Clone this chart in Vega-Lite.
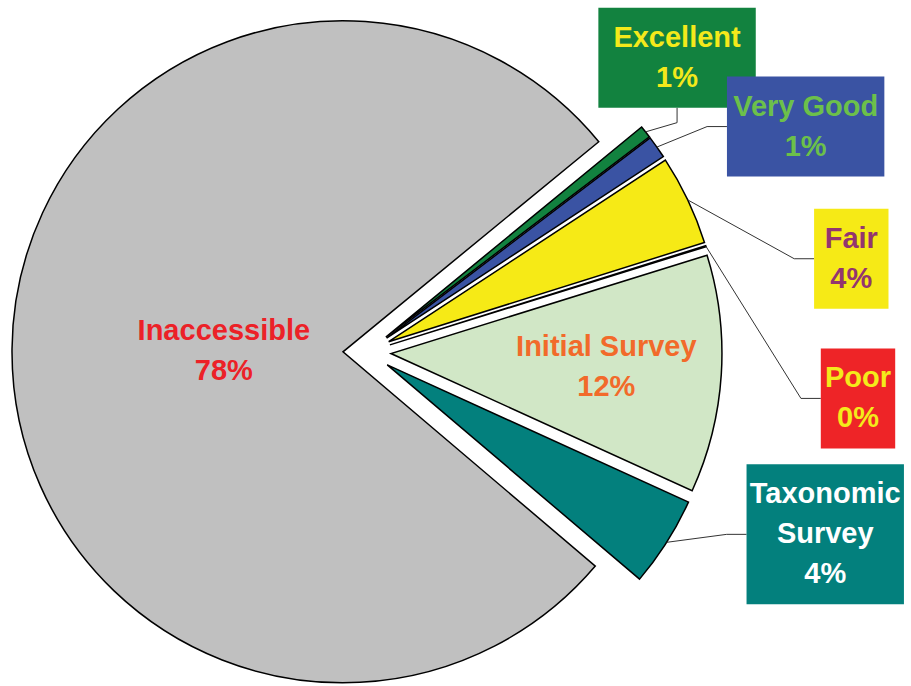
{
  "$schema": "https://vega.github.io/schema/vega-lite/v6.json",
  "width": 911,
  "height": 686,
  "autosize": {"type": "none"},
  "padding": 0,
  "background": "white",
  "config": {"view": {"stroke": null}},
  "data": {
    "values": [
      {"category": "Excellent", "share": 0.6},
      {"category": "Very Good", "share": 1.1},
      {"category": "Fair", "share": 4.4},
      {"category": "Poor", "share": 0.05},
      {"category": "Initial Survey", "share": 11.6},
      {"category": "Taxonomic Survey", "share": 4.4},
      {"category": "Inaccessible", "share": 77.85}
    ]
  },
  "transform": [
    {"window": [{"op": "sum", "field": "share", "as": "cum"}], "frame": [null, 0]},
    {"joinaggregate": [{"op": "sum", "field": "share", "as": "total"}]},
    {"calculate": "PI*50.6/180 + 2*PI*(datum.cum - datum.share)/datum.total", "as": "a0"},
    {"calculate": "PI*50.6/180 + 2*PI*datum.cum/datum.total", "as": "a1"},
    {"calculate": "(datum.a0 + datum.a1)/2", "as": "mid"},
    {"calculate": "0.0725*sin(datum.mid)", "as": "cx"},
    {"calculate": "0.0725*cos(datum.mid)", "as": "cy"},
    {"calculate": "format(datum.share, '.0f') + '%'", "as": "pct"},
    {"calculate": "datum.cx + sin(datum.mid)", "as": "ax"},
    {"calculate": "datum.cy + cos(datum.mid)", "as": "ay"}
  ],
  "layer": [
    {
      "mark": {"type": "arc", "radius": 331, "stroke": "#000000", "strokeWidth": 1.5, "strokeJoin": "miter"},
      "encoding": {
        "x": {"field": "cx", "type": "quantitative", "scale": {"domain": [-1.10876, 1.6435], "nice": false, "zero": false}, "axis": null},
        "y": {"field": "cy", "type": "quantitative", "scale": {"domain": [-1.00906, 1.06344], "nice": false, "zero": false}, "axis": null},
        "theta": {"field": "a0", "type": "quantitative", "scale": null, "stack": null},
        "theta2": {"field": "a1"},
        "fill": {
          "field": "category", "type": "nominal", "legend": null,
          "scale": {
            "domain": ["Excellent", "Very Good", "Fair", "Poor", "Initial Survey", "Taxonomic Survey", "Inaccessible"],
            "range": ["#12823f", "#3a53a3", "#f6ea16", "#ee2427", "#d1e7c6", "#03807d", "#c0c0c0"]
          }
        }
      }
    },
    {
      "transform": [
        {"filter": "datum.share < 10"},
        {"window": [{"op": "row_number", "as": "k"}]},
        {"calculate": "PI*(46.5 + 16.3*(datum.k - 1))/180", "as": "lt"},
        {"calculate": "length(datum.category) > 12 ? split(replace(datum.category, ' ', '|') + '|' + datum.pct, '|') : [datum.category, datum.pct]", "as": "lines"},
        {"calculate": "length(datum.category) > 12 ? max(indexof(datum.category, ' '), length(datum.category) - indexof(datum.category, ' ') - 1) : length(datum.category)", "as": "nchar"},
        {"calculate": "(datum.nchar*16.6 + 8)/2/331", "as": "hw"},
        {"calculate": "(length(datum.lines)*40 + 20)/2/331", "as": "hh"},
        {"calculate": "cos(datum.lt) > 0.1 ? min(1.49, (1.04 - datum.hh)/cos(datum.lt)) : 1.49", "as": "lr"},
        {"calculate": "datum.lr*sin(datum.lt)", "as": "bx"},
        {"calculate": "datum.lr*cos(datum.lt)", "as": "by"},
        {"calculate": "datum.by + (length(datum.lines) - 1)*20/331", "as": "textY"},
        {"calculate": "datum.bx - datum.hw", "as": "x0"},
        {"calculate": "datum.bx + datum.hw", "as": "x1"},
        {"calculate": "datum.by - datum.hh", "as": "y0"},
        {"calculate": "datum.by + datum.hh", "as": "y1"},
        {"calculate": "datum.ax > datum.x0", "as": "above"},
        {"calculate": "datum.above ? datum.bx : datum.x0 - 0.06", "as": "ex"},
        {"calculate": "datum.above ? datum.y0 - 0.045 : datum.by", "as": "ey"},
        {"calculate": "datum.above ? datum.bx : datum.x0", "as": "tx"},
        {"calculate": "datum.above ? datum.y0 : datum.by", "as": "ty"}
      ],
      "layer": [
        {
          "mark": {"type": "rule", "color": "#333333", "strokeWidth": 1},
          "encoding": {
            "x": {"field": "ax", "type": "quantitative", "scale": {"domain": [-1.10876, 1.6435], "nice": false, "zero": false}, "axis": null},
            "y": {"field": "ay", "type": "quantitative", "scale": {"domain": [-1.00906, 1.06344], "nice": false, "zero": false}, "axis": null},
            "x2": {"field": "ex"},
            "y2": {"field": "ey"}
          }
        },
        {
          "mark": {"type": "rule", "color": "#333333", "strokeWidth": 1},
          "encoding": {
            "x": {"field": "ex", "type": "quantitative", "scale": {"domain": [-1.10876, 1.6435], "nice": false, "zero": false}, "axis": null},
            "y": {"field": "ey", "type": "quantitative", "scale": {"domain": [-1.00906, 1.06344], "nice": false, "zero": false}, "axis": null},
            "x2": {"field": "tx"},
            "y2": {"field": "ty"}
          }
        },
        {
          "mark": {"type": "rect"},
          "encoding": {
            "x": {"field": "x0", "type": "quantitative", "scale": {"domain": [-1.10876, 1.6435], "nice": false, "zero": false}, "axis": null},
            "y": {"field": "y0", "type": "quantitative", "scale": {"domain": [-1.00906, 1.06344], "nice": false, "zero": false}, "axis": null},
            "x2": {"field": "x1"},
            "y2": {"field": "y1"},
            "fill": {"field": "category", "type": "nominal", "legend": null}
          }
        },
        {
          "mark": {"type": "text", "font": "Liberation Sans", "fontWeight": "bold", "fontSize": 29, "lineHeight": 40, "align": "center", "baseline": "middle"},
          "encoding": {
            "x": {"field": "bx", "type": "quantitative", "scale": {"domain": [-1.10876, 1.6435], "nice": false, "zero": false}, "axis": null},
            "y": {"field": "textY", "type": "quantitative", "scale": {"domain": [-1.00906, 1.06344], "nice": false, "zero": false}, "axis": null},
            "text": {"field": "lines", "type": "nominal"},
            "color": {
              "field": "category", "type": "nominal", "legend": null,
              "scale": {
                "domain": ["Excellent", "Very Good", "Fair", "Poor", "Initial Survey", "Taxonomic Survey", "Inaccessible"],
                "range": ["#f4e91b", "#6cc04a", "#93356f", "#f4ea1b", "#f26a2a", "#ffffff", "#ec2127"]
              }
            }
          }
        }
      ]
    },
    {
      "transform": [
        {"filter": "datum.share >= 10"},
        {"calculate": "datum.a1 - datum.a0", "as": "span"},
        {"calculate": "max(4*sin(datum.span/2)/(3*datum.span), 0.36)", "as": "lrad"},
        {"calculate": "datum.cx + datum.lrad*sin(datum.mid)", "as": "lx"},
        {"calculate": "datum.cy + datum.lrad*cos(datum.mid) + 20/331", "as": "ly"},
        {"calculate": "[datum.category, datum.pct]", "as": "lines"}
      ],
      "mark": {"type": "text", "font": "Liberation Sans", "fontWeight": "bold", "fontSize": 29, "lineHeight": 40, "align": "center", "baseline": "middle"},
      "encoding": {
        "x": {"field": "lx", "type": "quantitative", "scale": {"domain": [-1.10876, 1.6435], "nice": false, "zero": false}, "axis": null},
        "y": {"field": "ly", "type": "quantitative", "scale": {"domain": [-1.00906, 1.06344], "nice": false, "zero": false}, "axis": null},
        "text": {"field": "lines", "type": "nominal"},
        "color": {"field": "category", "type": "nominal", "legend": null}
      }
    }
  ]
}
